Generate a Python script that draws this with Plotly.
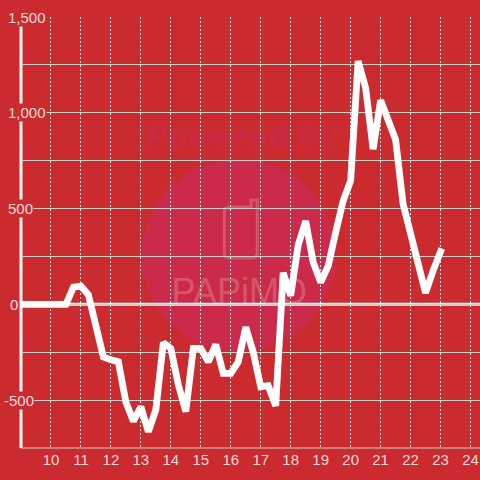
import plotly.graph_objects as go

x_vals = [9 + i * 0.25 for i in range(57)]
y_vals = [0, 0, 0, 0, 0, 0, 0, 90, 95, 50, -130, -275, -290, -300, -510, -610, -535, -665, -550, -200, -230,
          -420, -560, -230, -230, -300, -210, -360, -360, -300, -120, -250, -430, -425, -530, 165, 45,
          310, 435, 220, 115, 200, 375, 540, 645, 1270, 1130, 810, 1065, 960, 860, 525, 370, 240, 60, 175, 275]
x_ticks = list(range(10, 25))
y_grid = [-750, -500, -250, 0, 250, 500, 750, 1000, 1250, 1500]
y_label_vals = [1500, 1000, 500, 0, -500]
y_label_text = ["1,500", "1,000", "500", "0", "-500"]
y_label_left = [6, 6, 6, 8, 2]

RED = "#cb2a2e"
PINK = "#cb2a4a"
FONT = "Liberation Sans"
L, T, B = 20.5, 16.5, 448.5
R = 480


def px(v):
    return (v - L) / (R - L)


def py(v):
    return (B - v) / (B - T)


fig = go.Figure(go.Scatter(x=x_vals, y=y_vals, mode="lines", line=dict(color="white", width=6.8), cliponaxis=False))

ann = [dict(text=t, x=px(l), xref="paper", y=v, yref="y", xanchor="left", showarrow=False,
            font=dict(color="#f3dcdc", size=15, family=FONT), bgcolor=RED, borderpad=0)
       for v, t, l in zip(y_label_vals, y_label_text, y_label_left)]

phone = "M {} {} L {} {} L {} {} Q {} {} {} {} L {} {} Q {} {} {} {} L {} {} Q {} {} {} {} L {} {} Q {} {} {} {} Z".format(
    px(251), py(207), px(251), py(200), px(257), py(200),
    px(257), py(200), px(257), py(203),
    px(257), py(253), px(257), py(258), px(252), py(258),
    px(229), py(258), px(224), py(258), px(224), py(253),
    px(224), py(212), px(224), py(207), px(229), py(207),
    px(251), py(207))

shapes = [
    dict(type="circle", xref="paper", yref="paper", x0=px(141), x1=px(335), y0=py(352), y1=py(159),
         fillcolor=PINK, line_width=0, layer="below"),
    dict(type="path", xref="paper", yref="paper", path=phone, line=dict(color="#d55668", width=3), layer="below"),
    dict(type="rect", xref="paper", yref="paper", x0=px(150), x1=px(335), y0=py(148), y1=py(120),
         line_width=0, layer="below",
         label=dict(text="Powered by", textposition="middle center",
                    font=dict(family="DejaVu Sans", size=29, color="#cc2a44", weight="bold", style="italic"))),
    dict(type="rect", xref="paper", yref="paper", x0=px(170), x1=px(308), y0=py(306), y1=py(272),
         line_width=0, layer="below",
         label=dict(text="PAPiMO", textposition="middle center",
                    font=dict(family=FONT, size=36, color="#d55668"))),
    dict(type="line", xref="paper", yref="paper", x0=0, x1=1, y0=0, y1=0, line=dict(color="#c9d0cc", width=1), layer="between"),
    dict(type="line", xref="paper", yref="y", x0=0, x1=1, y0=0, y1=0, line=dict(color="#f8f4f4", width=3), layer="between"),
    dict(type="line", xref="paper", yref="paper", x0=0, x1=0, y0=0, y1=1, line=dict(color="#f8f4f4", width=3), layer="between"),
]

fig.update_layout(
    width=480, height=480, paper_bgcolor=RED, plot_bgcolor=RED, showlegend=False,
    margin=dict(l=L, r=0, t=T, b=480 - B, pad=0),
    xaxis=dict(range=[9, 9 + (R - L) / 30], tickvals=x_ticks, showgrid=True, gridcolor="#e6ece8",
               griddash="2px,2px", gridwidth=1, zeroline=False, ticks="", ticklabelstandoff=1,
               tickfont=dict(color="#f3dcdc", size=15, family=FONT), showline=False),
    yaxis=dict(range=[-750, 1500], tickvals=y_grid, showticklabels=False, showgrid=True, gridcolor="#c9d0cc",
               gridwidth=1, zeroline=False, showline=False),
    annotations=ann,
    shapes=shapes,
)
fig.write_html(
    "out.html",
    config={"displayModeBar": False},
    post_script="document.body.style.margin='0';document.body.style.overflow='hidden';"
                "document.querySelectorAll('.js-line').forEach(function(e){e.style.strokeLinecap='square';});",
)
